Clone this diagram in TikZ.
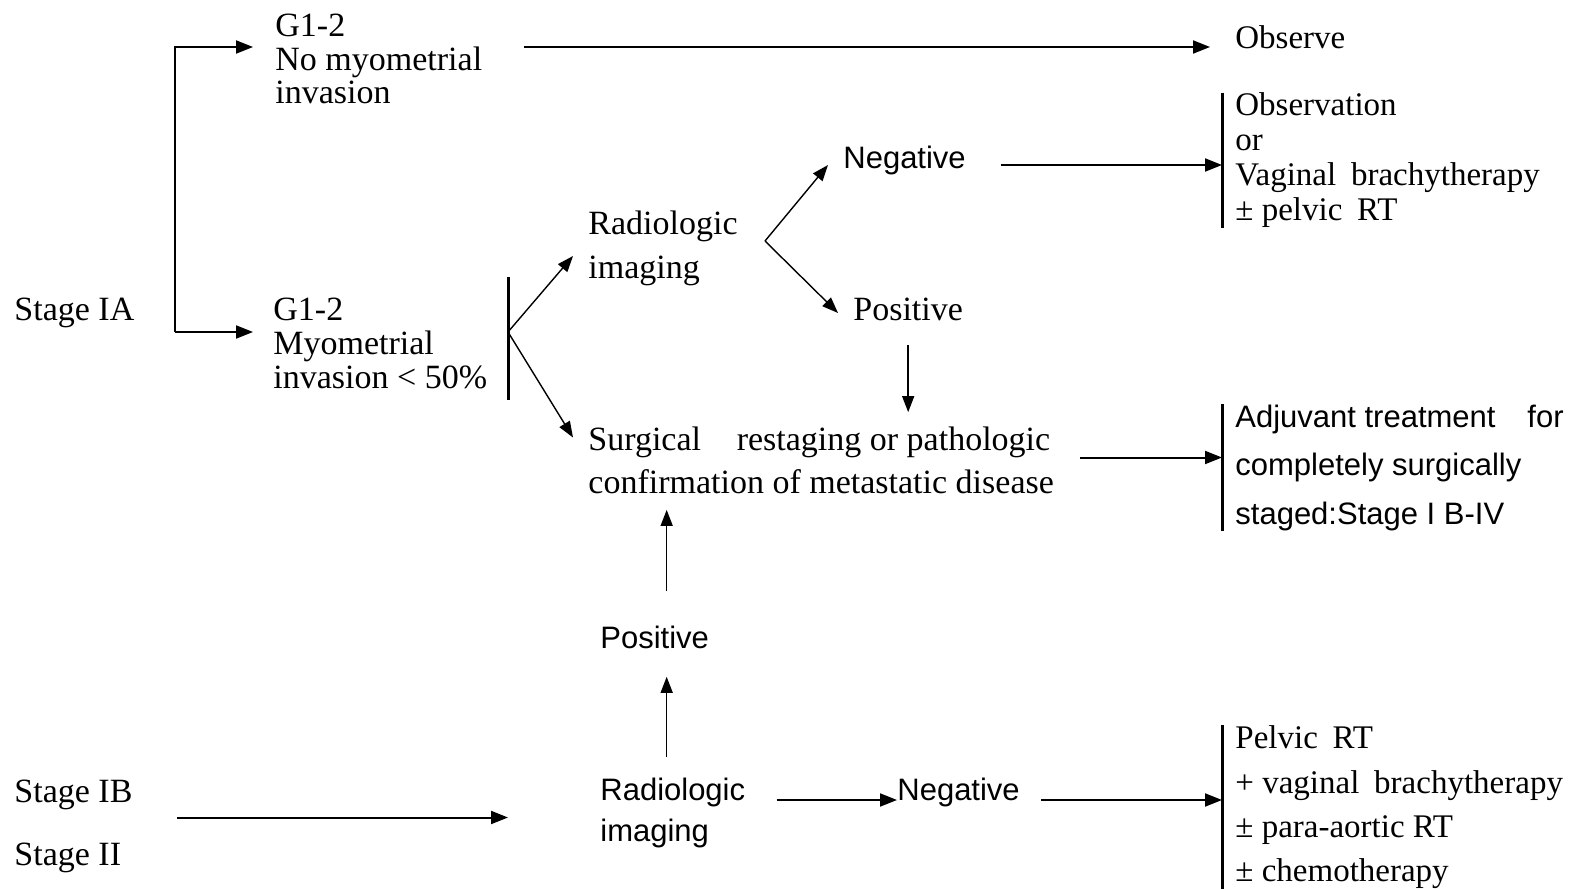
\documentclass[tikz,border=0pt]{standalone}
\usepackage{fontspec}
\setmainfont{Liberation Serif}
\setsansfont{Liberation Sans}
\usetikzlibrary{arrows.meta,calc}

\tikzset{
	txt/.style={anchor=west, align=left, inner sep=0pt, font=\fontsize{17pt}{#1pt}\selectfont},
	txt/.default=20,
	rtxt/.style={anchor=west, align=left, inner sep=0pt, font=\fontsize{16.5pt}{#1pt}\selectfont},
	rtxt/.default=20,
	stxt/.style={anchor=west, align=left, inner sep=0pt, font=\sffamily\fontsize{15.5pt}{#1pt}\selectfont},
	stxt/.default=20,
	arr/.style={line width=1pt, -{Triangle[length=8.5pt,width=6.5pt]}},
	tarr/.style={line width=0.7pt, -{Triangle[length=8pt,width=6pt]}},
	bar/.style={line width=1.5pt},
}

\begin{document}
\begin{tikzpicture}[x = 0.5pt, y = -0.5pt]
	\useasboundingbox (0,0) rectangle (1570,889);

	% stage IA
	\node[txt] (stageIA) at (14,313) {Stage IA};
	\node[txt=16.75] (g12a) at (275,59) {G1-2\\No myometrial\\invasion};
	\node[txt=17] (g12b) at (273,343) {G1-2\\Myometrial\\invasion < 50\%};
	\node[rtxt] (observe) at (1235,37) {Observe};
	\node[rtxt=17.5] (obs) at (1235,160.5) {Observation\\or\\Vaginal\hspace{0.45em}brachytherapy\\± pelvic\hspace{0.45em}RT};
	\node[stxt] (neg1) at (843,160) {Negative};
	\node[txt=22] (radio1) at (588,248) {Radiologic\\imaging};
	\node[txt] (pos1) at (853,309) {Positive};
	\node[txt=21.5] (surg) at (588,460.5) {Surgical \hspace{0.8em}restaging or pathologic\\confirmation of metastatic disease};
	\node[stxt=24.25] (adj) at (1235,467.5) {Adjuvant treatment \hspace{0.75em}for\\completely surgically\\staged:Stage I B-IV};

	% stage IB / II
	\node[txt] (stageIB) at (14,795) {Stage IB};
	\node[txt] (stageII) at (14,858) {Stage II};
	\node[stxt=20.5] (radio2) at (600,812.5) {Radiologic\\imaging};
	\node[stxt] (pos2) at (600,637) {Positive};
	\node[stxt] (neg2) at (897,792) {Negative};
	\node[rtxt=22.2] (pelvic) at (1235,807.5) {Pelvic\hspace{0.45em}RT\\+ vaginal\hspace{0.45em}brachytherapy\\± para-aortic RT\\± chemotherapy};

	% brackets on the right
	\foreach \b in {obs, adj, pelvic}
		{\draw[bar] ([xshift=-6.5pt]\b.north west) coordinate (\b T) -- ([xshift=-6.5pt]\b.south west);}

	% fork to G1-2
	\coordinate (forkT) at (175,47);
	\coordinate (forkB) at (175,332);
	\draw[arr, shorten >=11pt] (forkB) -- (forkT) -- (forkT -| g12a.west);
	\draw[arr, shorten >=10pt] (forkB) -- (forkB -| g12b.west);
	\draw[arr, shorten <=20.5pt, shorten >=12.5pt] (forkT -| g12a.east) -- (forkT -| observe.west);

	% fork after invasion < 50%
	\coordinate (fork2) at (508,332);
	\draw[bar] ([yshift=27.5pt]fork2) -- ([yshift=-34pt]fork2);
	\draw[tarr] (fork2) -- ([xshift=-7.5pt,yshift=-4pt]radio1.west);
	\draw[tarr] (fork2) -- ([xshift=-7.5pt,yshift=11.5pt]surg.west);

	\coordinate (fork3) at ([xshift=13.5pt,yshift=3.5pt]radio1.east);
	\draw[tarr] (fork3) -- ([xshift=-7.5pt,yshift=-2.5pt]neg1.west);
	\draw[tarr] (fork3) -- ([xshift=-7.5pt,yshift=-2pt]pos1.west);
	\draw[arr, shorten <=17.5pt] ([yshift=-2.5pt]neg1.east) -- ([yshift=-2.5pt]neg1.east -| obsT);
	\draw[tarr, shorten <=12pt, shorten >=7.25pt] (pos1.south) -- (pos1.south |- surg.north);
	\draw[arr, shorten <=13pt] ([yshift=1.5pt]surg.east) -- ([yshift=1.5pt]surg.east -| adjT);

	% bottom row
	\coordinate (stIn) at ([yshift=4.5pt]$(stageIB.east)!0.5!(stageII.east)$);
	\draw[arr, shorten <=25pt, shorten >=46pt] (stIn) -- (stIn -| radio2.west);
	\draw[tarr, shorten <=10pt, shorten >=14pt] ([xshift=6pt]pos2.south |- radio2.north) -- ([xshift=6pt]pos2.south);
	\draw[tarr, shorten <=17pt, shorten >=7.75pt] ([xshift=6pt]pos2.north) -- ([xshift=6pt]pos2.north |- surg.south);
	\draw[arr, shorten <=15.5pt] ([yshift=-4pt]neg2.west -| radio2.east) -- ([yshift=-4pt]neg2.west);
	\draw[arr, shorten <=10.5pt] ([yshift=-4pt]neg2.east) -- ([yshift=-4pt]neg2.east -| pelvicT);

\end{tikzpicture}
\end{document}
